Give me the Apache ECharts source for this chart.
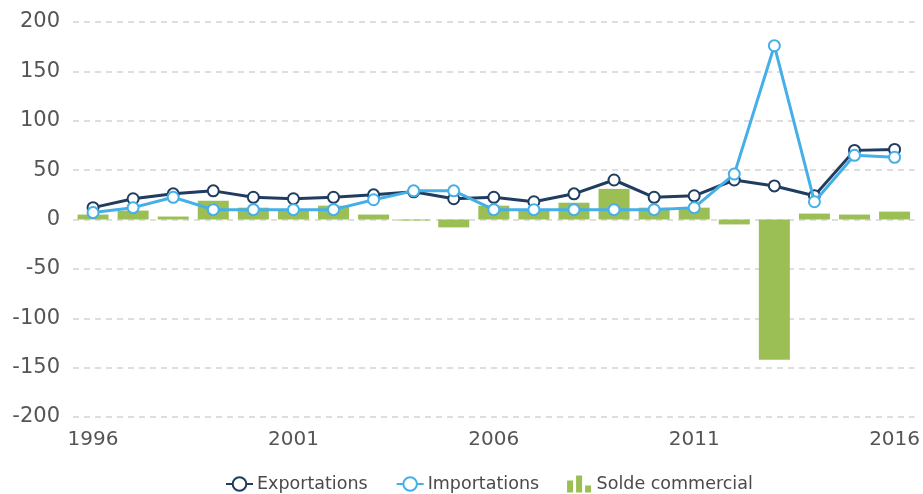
<!DOCTYPE html>
<html><head><meta charset="utf-8">
<script src="https://cdn.jsdelivr.net/npm/echarts@6/dist/echarts.min.js"></script>
<style>html,body{margin:0;padding:0;background:#fff}#c{width:923px;height:494px}</style>
</head><body><div id="c"></div>
<script>
const years = ['1996','1997','1998','1999','2000','2001','2002','2003','2004','2005','2006','2007','2008','2009','2010','2011','2012','2013','2014','2015','2016'];
const exportations = [12, 21, 26, 29, 22.5, 21, 22.5, 25, 28, 21, 22.5, 18, 26, 40, 22.5, 24, 40, 34, 24, 70, 71];
const importations = [7, 12, 22.5, 10, 10, 10, 10, 20, 29, 29, 10, 10, 10, 10, 10, 12, 46, 176, 18, 65, 63];
const solde = [5, 9, 3, 19, 12, 9, 14, 5, -1, -8, 14, 9, 17, 31, 12, 12, -5, -142, 6, 5, 8];
const yTicks = [-200, 200, 50];

const font = 'DejaVu Sans, Verdana, sans-serif';
const chart = echarts.init(document.getElementById('c'), null, {renderer: 'canvas'});
const barIcon = 'path://M0,5 L6,5 L6,17 L0,17 Z M9,0 L15,0 L15,17 L9,17 Z M18,10 L24,10 L24,17 L18,17 Z';
chart.setOption({
  animation: false,
  textStyle: {fontFamily: font},
  grid: {left: 73, right: 7, top: 22, bottom: 77},
  legend: {
    bottom: 1, left: 225, padding: 0, itemGap: 28, itemWidth: 27, itemHeight: 17,
    textStyle: {fontFamily: font, fontSize: 17.5, color: '#4a4a4a', padding: [0, 0, 0, -1]},
    data: [
      {name: 'Exportations'},
      {name: 'Importations'},
      {name: 'Solde commercial', icon: barIcon, itemStyle: {color: '#9bbf55', borderWidth: 0}}
    ]
  },
  xAxis: {
    type: 'category', data: years, boundaryGap: true,
    axisLine: {show: false}, axisTick: {show: false},
    axisLabel: {interval: 4, color: '#555', fontSize: 20, fontFamily: font, margin: 13},
    splitLine: {show: false}
  },
  yAxis: {
    type: 'value', min: yTicks[0], max: yTicks[1], interval: yTicks[2],
    axisLine: {show: false}, axisTick: {show: false},
    axisLabel: {color: '#555', fontSize: 21, fontFamily: font, margin: 13},
    splitLine: {lineStyle: {color: '#d4d4d4', type: [6, 5], width: 1.5}}
  },
  series: [
    {
      name: 'Solde commercial', type: 'bar', data: solde, barWidth: 31,
      itemStyle: {color: '#9bbf55'}, z: 1
    },
    {
      name: 'Exportations', type: 'line', data: exportations,
      symbol: 'circle', symbolSize: 11, showAllSymbol: true,
      lineStyle: {color: '#203d5f', width: 3},
      itemStyle: {color: '#fff', borderColor: '#203d5f', borderWidth: 2},
      z: 3
    },
    {
      name: 'Importations', type: 'line', data: importations,
      symbol: 'circle', symbolSize: 11, showAllSymbol: true,
      lineStyle: {color: '#45afe8', width: 3},
      itemStyle: {color: '#fff', borderColor: '#45afe8', borderWidth: 2},
      z: 4
    }
  ]
});
</script></body></html>
